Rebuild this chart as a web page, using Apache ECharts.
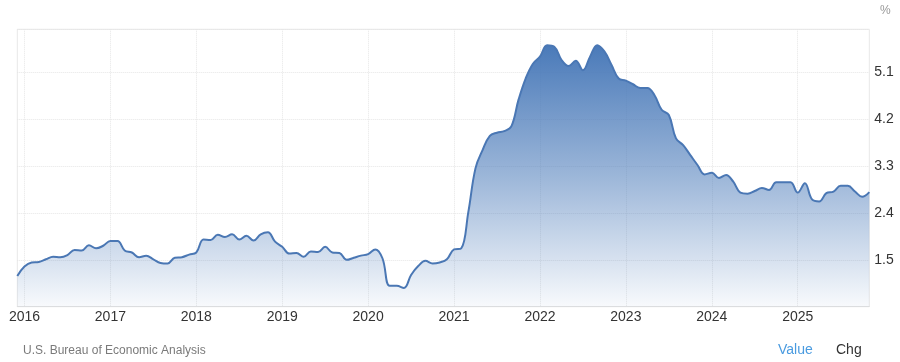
<!DOCTYPE html>
<html>
<head>
<meta charset="utf-8">
<script src="https://cdn.jsdelivr.net/npm/echarts@6/dist/echarts.min.js"></script>
<style>
  html, body { margin: 0; padding: 0; background: #ffffff; }
  #chart { width: 900px; height: 362px; }
</style>
</head>
<body>
<div id="chart"></div>
<script>
// Monthly series, first point Nov 2015, last point Oct 2025 (year-over-year %)
const startYear = 2015;
const startMonth = 11;
const values = [
  1.19, 1.37, 1.45, 1.46, 1.51, 1.56, 1.55, 1.59, 1.69, 1.68, 1.78, 1.72,
  1.77, 1.86, 1.86, 1.68, 1.64, 1.55, 1.58, 1.51, 1.44, 1.43, 1.54, 1.55,
  1.60, 1.64, 1.89, 1.88, 1.98, 1.94, 1.99, 1.89, 1.96, 1.87, 1.99, 2.03,
  1.85, 1.75, 1.62, 1.63, 1.56, 1.66, 1.65, 1.75, 1.64, 1.63, 1.50, 1.54,
  1.58, 1.61, 1.70, 1.53, 1.00, 1.00, 0.96, 1.21, 1.38, 1.48, 1.43, 1.45,
  1.51, 1.70, 1.72, 2.42, 3.26, 3.61, 3.88, 3.94, 3.97, 4.06, 4.57, 4.98,
  5.26, 5.40, 5.62, 5.59, 5.34, 5.22, 5.32, 5.14, 5.40, 5.62, 5.50, 5.24,
  4.98, 4.94, 4.87, 4.80, 4.80, 4.66, 4.38, 4.28, 3.83, 3.70, 3.51, 3.32,
  3.14, 3.17, 3.07, 3.13, 3.00, 2.79, 2.77, 2.82, 2.88, 2.84, 2.99, 2.99,
  2.99, 2.79, 2.97, 2.66, 2.62, 2.78, 2.81, 2.92, 2.92, 2.81, 2.71, 2.80
];
const yTicks = [1.5, 2.4, 3.3, 4.2, 5.1];
const yMin = 0.6;
const yMax = 5.925;
const yStep = 0.9;
const unitLabel = '%';
const sourceLabel = 'U.S. Bureau of Economic Analysis';
const toggleLabels = ['Value', 'Chg'];

// month categories "YYYY-MM"
const categories = [];
for (let i = 0; i < values.length; i++) {
  const m0 = startMonth - 1 + i;
  const y = startYear + Math.floor(m0 / 12);
  const m = (m0 % 12) + 1;
  categories.push(y + '-' + (m < 10 ? '0' + m : m));
}
// year boundary = December entry (month-end dates)
const isYearMark = (idx, val) => String(categories[idx]).slice(5) === '12';

const chart = echarts.init(document.getElementById('chart'), null, { renderer: 'canvas' });
chart.setOption({
  animation: false,
  backgroundColor: '#ffffff',
  grid: {
    left: 17.3, right: 30.7, top: 29.3, bottom: 55.3,
    show: true, borderColor: '#e8e8e8', borderWidth: 1,
    outerBoundsMode: 'none'
  },
  xAxis: {
    type: 'category',
    data: categories,
    boundaryGap: false,
    axisLine: { show: true, lineStyle: { color: '#e0e0e0' } },
    axisTick: { show: false },
    axisLabel: {
      interval: isYearMark,
      formatter: (v) => String(parseInt(v.slice(0, 4), 10) + 1),
      color: '#333333',
      fontFamily: 'Liberation Sans, Arial, sans-serif',
      fontSize: 14,
      margin: 3
    },
    splitLine: {
      show: true,
      interval: isYearMark,
      lineStyle: { color: '#e6e6e6', type: 'dotted', width: 1 }
    }
  },
  yAxis: {
    type: 'value',
    position: 'right',
    min: yMin,
    max: yMax,
    interval: yStep,
    axisLine: { show: false },
    axisTick: { show: false },
    axisLabel: {
      showMinLabel: false,
      showMaxLabel: false,
      formatter: (v) => yTicks.some(t => Math.abs(t - v) < 1e-6) ? v.toFixed(1) : '',
      color: '#333333',
      fontFamily: 'Liberation Sans, Arial, sans-serif',
      fontSize: 14,
      margin: 5
    },
    splitLine: {
      show: true,
      lineStyle: { color: '#e6e6e6', type: 'dotted', width: 1 }
    }
  },
  series: [{
    type: 'line',
    data: values,
    smooth: 0.4,
    symbol: 'none',
    lineStyle: { color: '#4a77b4', width: 2 },
    areaStyle: {
      opacity: 1,
      color: new echarts.graphic.LinearGradient(0, 0, 0, 1, [
        { offset: 0, color: 'rgba(74,122,185,1)' },
        { offset: 0.5, color: 'rgba(74,122,185,0.55)' },
        { offset: 1, color: 'rgba(74,122,185,0.04)' }
      ])
    }
  }],
  graphic: [
    {
      type: 'text', left: 880, top: 5,
      style: { text: unitLabel, fill: '#999999', fontSize: 12, fontFamily: 'Liberation Sans, Arial, sans-serif' }
    },
    {
      type: 'text', left: 23, top: 344.5,
      style: { text: sourceLabel, fill: '#7a7a7a', fontSize: 12, fontFamily: 'Liberation Sans, Arial, sans-serif' }
    },
    {
      type: 'text', left: 778, top: 343,
      style: { text: toggleLabels[0], fill: '#4a9be0', fontSize: 14, fontFamily: 'Liberation Sans, Arial, sans-serif' }
    },
    {
      type: 'text', left: 836, top: 343,
      style: { text: toggleLabels[1], fill: '#333333', fontSize: 14, fontFamily: 'Liberation Sans, Arial, sans-serif' }
    }
  ]
});
</script>
</body>
</html>
